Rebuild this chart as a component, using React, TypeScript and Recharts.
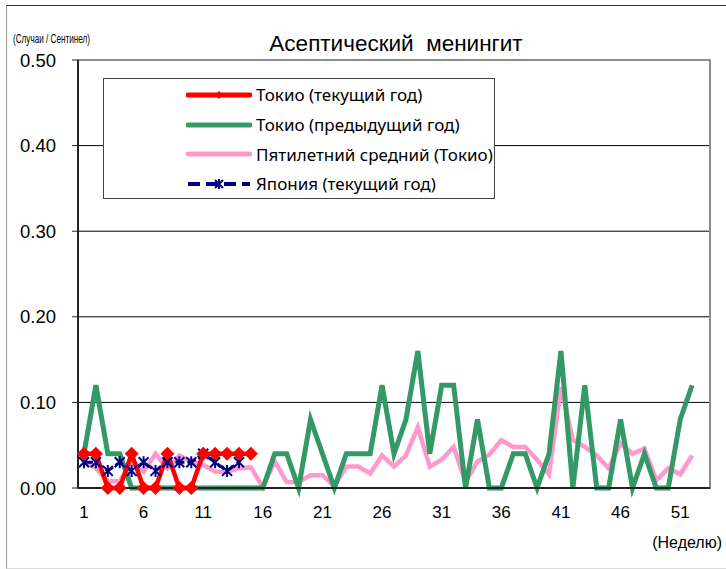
import { CartesianGrid, Legend, Line, LineChart, ReferenceArea, XAxis, YAxis } from "recharts"

// weeks 1..53 (53rd week is empty, only keeps the axis span)
const weeks = [
  1, 2, 3, 4, 5, 6, 7, 8, 9, 10, 11, 12, 13, 14, 15, 16, 17, 18, 19, 20, 21, 22, 23, 24, 25, 26,
  27, 28, 29, 30, 31, 32, 33, 34, 35, 36, 37, 38, 39, 40, 41, 42, 43, 44, 45, 46, 47, 48, 49, 50,
  51, 52, 53,
]
const weekTicks = [1, 6, 11, 16, 21, 26, 31, 36, 41, 46, 51]
const weekBoundaryTicks = [5.5, 10.5, 15.5, 20.5, 25.5, 30.5, 35.5, 40.5, 45.5, 50.5]
const valueTicks = [0, 0.1, 0.2, 0.3, 0.4, 0.5]

const tokyoCurrent = [0.04, 0.04, 0, 0, 0.04, 0, 0, 0.04, 0, 0, 0.04, 0.04, 0.04, 0.04, 0.04]

const tokyoPrevious = [
  0.04, 0.12, 0.04, 0.04, 0, 0, 0, 0, 0, 0, 0, 0, 0, 0, 0, 0, 0.04, 0.04, 0, 0.08, 0.04, 0, 0.04,
  0.04, 0.04, 0.12, 0.04, 0.08, 0.16, 0.04, 0.12, 0.12, 0, 0.08, 0, 0, 0.04, 0.04, 0, 0.04, 0.16, 0,
  0.12, 0, 0, 0.08, 0, 0.04, 0, 0, 0.08, 0.12,
]

const fiveYearAverage = [
  0.031, 0.023, 0.008, 0.008, 0.03, 0.019, 0.04, 0.023, 0.038, 0.031, 0.027, 0.019, 0.019, 0.023,
  0.024, 0.001, 0.031, 0.007, 0.007, 0.015, 0.015, 0.002, 0.025, 0.025, 0.017, 0.038, 0.025, 0.038,
  0.071, 0.025, 0.033, 0.048, 0.007, 0.031, 0.039, 0.056, 0.048, 0.048, 0.033, 0.016, 0.118, 0.056,
  0.048, 0.038, 0.023, 0.052, 0.04, 0.046, 0.009, 0.023, 0.016, 0.038,
]

const japanCurrent = [0.03, 0.03, 0.02, 0.03, 0.02, 0.03, 0.02, 0.03, 0.03, 0.03, 0.04, 0.03, 0.02, 0.03]

const data = weeks.map((week, i) => ({
  week,
  tokyoCurrent: tokyoCurrent[i],
  tokyoPrevious: tokyoPrevious[i],
  fiveYearAverage: fiveYearAverage[i],
  japanCurrent: japanCurrent[i],
}))

const RED = "#ff0000"
const GREEN = "#339966"
const PINK = "#ff99cc"
const NAVY = "#000080"

const legendItems = [
  { key: "tokyoCurrent", name: "Токио (текущий год)", color: RED, marker: "diamond" },
  { key: "tokyoPrevious", name: "Токио (предыдущий год)", color: GREEN, marker: "none" },
  { key: "fiveYearAverage", name: "Пятилетний средний (Токио)", color: PINK, marker: "none" },
  { key: "japanCurrent", name: "Япония (текущий год)", color: NAVY, marker: "star" },
]

function diamondPath(cx: number, cy: number, r: number) {
  return `M${cx},${cy - r}L${cx + r},${cy}L${cx},${cy + r}L${cx - r},${cy}Z`
}

function starPath(cx: number, cy: number, r: number) {
  return `M${cx - r},${cy - r}L${cx + r},${cy + r}M${cx - r},${cy + r}L${cx + r},${cy - r}M${cx},${cy - r - 1}L${cx},${cy + r + 1}`
}

const DiamondDot = (props: any) => {
  const { cx, cy, index } = props
  if (cx == null || cy == null || props.value == null) return <g key={`d${index}`} />
  return <path key={`d${index}`} d={diamondPath(cx, cy, 7)} fill={RED} />
}

const StarDot = (props: any) => {
  const { cx, cy, index } = props
  if (cx == null || cy == null || props.value == null) return <g key={`s${index}`} />
  return <path key={`s${index}`} d={starPath(cx, cy, 5)} stroke={NAVY} strokeWidth={2} fill="none" />
}

function LegendSwatch({ color, marker }: { color: string; marker: string }) {
  return (
    <svg width={66} height={14} style={{ display: "block" }}>
      {marker === "star" ? (
        <>
          <line x1={2} y1={7} x2={64} y2={7} stroke={color} strokeWidth={4} strokeDasharray="12 6" />
          <path d={starPath(33, 7, 4)} stroke={color} strokeWidth={2} fill="none" />
        </>
      ) : (
        <line x1={2} y1={7} x2={64} y2={7} stroke={color} strokeWidth={5} strokeLinecap="round" />
      )}
      {marker === "diamond" && <path d={diamondPath(33, 7, 4)} fill={color} />}
    </svg>
  )
}

function ChartLegend() {
  return (
    <div
      style={{
        width: 392,
        height: 121,
        boxSizing: "border-box",
        border: "1px solid #444",
        background: "#fff",
        paddingTop: 1,
        fontFamily: "'Noto Sans', sans-serif",
        fontSize: 17,
        color: "#000",
      }}
    >
      {legendItems.map((item) => (
        <div key={item.key} style={{ display: "flex", alignItems: "center", height: 29.7 }}>
          <div style={{ width: 82 }} />
          <LegendSwatch color={item.color} marker={item.marker} />
          <span style={{ marginLeft: 4, whiteSpace: "nowrap" }}>{item.name}</span>
        </div>
      ))}
    </div>
  )
}

export default function App() {
  return (
    <div style={{ position: "absolute", left: 0, top: 0, width: 726, height: 569, background: "#fff" }}>
      <div
        style={{
          position: "absolute",
          left: 6,
          top: 5,
          width: 740,
          height: 562,
          borderTop: "1px solid #333",
          borderLeft: "1px solid #999",
          borderBottom: "1px solid #ddd",
        }}
      />
      <LineChart
        width={726}
        height={569}
        data={data}
        margin={{ top: 60, right: 16, bottom: 51, left: 18 }}
        style={{ position: "absolute", left: 0, top: 0 }}
      >
        <CartesianGrid vertical={false} stroke="#000" strokeWidth={1} />
        <ReferenceArea y1={0} y2={0.5} fill="none" stroke="#8c8c8c" strokeWidth={2} ifOverflow="visible" />
        <XAxis
          dataKey="week"
          type="number"
          domain={[0.5, 53.5]}
          ticks={weekTicks}
          interval={0}
          height={30}
          tickLine={false}
          tickSize={6}
          tickMargin={12}
          axisLine={{ stroke: "#222", strokeWidth: 2 }}
          tick={{ fill: "#000", fontSize: 17, fontFamily: "'Liberation Sans', Arial, sans-serif" }}
        />
        <XAxis
          xAxisId="bounds"
          dataKey="week"
          type="number"
          domain={[0.5, 53.5]}
          ticks={weekBoundaryTicks}
          interval={0}
          mirror
          height={0}
          axisLine={false}
          tick={false}
          tickSize={5}
          tickLine={{ stroke: "#222", strokeWidth: 1 }}
        />
        <YAxis
          domain={[0, 0.5]}
          ticks={valueTicks}
          interval={0}
          width={60}
          tickSize={6}
          tickMargin={16}
          tickFormatter={(v: number) => v.toFixed(2)}
          tickLine={{ stroke: "#222" }}
          axisLine={{ stroke: "#222", strokeWidth: 2 }}
          tick={{ fill: "#000", fontSize: 18.5, fontFamily: "'Liberation Sans', Arial, sans-serif" }}
        />
        <Legend
          layout="vertical"
          align="center"
          verticalAlign="middle"
          wrapperStyle={{ left: 103, top: 78, width: 392, height: 121 }}
          content={() => <ChartLegend />}
        />
        <Line
          dataKey="fiveYearAverage"
          name="Пятилетний средний (Токио)"
          stroke={PINK}
          strokeWidth={4.5}
          dot={false}
          activeDot={false}
          isAnimationActive={false}
        />
        <Line
          dataKey="tokyoPrevious"
          name="Токио (предыдущий год)"
          stroke={GREEN}
          strokeWidth={5}
          dot={false}
          activeDot={false}
          isAnimationActive={false}
        />
        <Line
          dataKey="japanCurrent"
          name="Япония (текущий год)"
          stroke={NAVY}
          strokeWidth={3}
          strokeDasharray="9 3"
          dot={StarDot}
          activeDot={false}
          isAnimationActive={false}
        />
        <Line
          dataKey="tokyoCurrent"
          name="Токио (текущий год)"
          stroke={RED}
          strokeWidth={4.5}
          dot={DiamondDot}
          activeDot={false}
          isAnimationActive={false}
        />
      </LineChart>
      <svg width={726} height={569} style={{ position: "absolute", left: 0, top: 0, pointerEvents: "none" }}>
        <text
          x={396}
          y={51}
          textAnchor="middle"
          fontSize={22.5}
          fontFamily="'Liberation Sans', Arial, sans-serif"
          fill="#000"
          xmlSpace="preserve"
        >
          Асептический  менингит
        </text>
        <text
          x={13}
          y={43}
          fontSize={12}
          textLength={77}
          lengthAdjust="spacingAndGlyphs"
          fontFamily="'Liberation Sans', Arial, sans-serif"
          fill="#000"
        >
          (Случаи / Сентинел)
        </text>
        <text
          x={722}
          y={548}
          textAnchor="end"
          fontSize={16}
          fontFamily="'Liberation Sans', Arial, sans-serif"
          fill="#000"
        >
          (Неделю)
        </text>
      </svg>
    </div>
  )
}
